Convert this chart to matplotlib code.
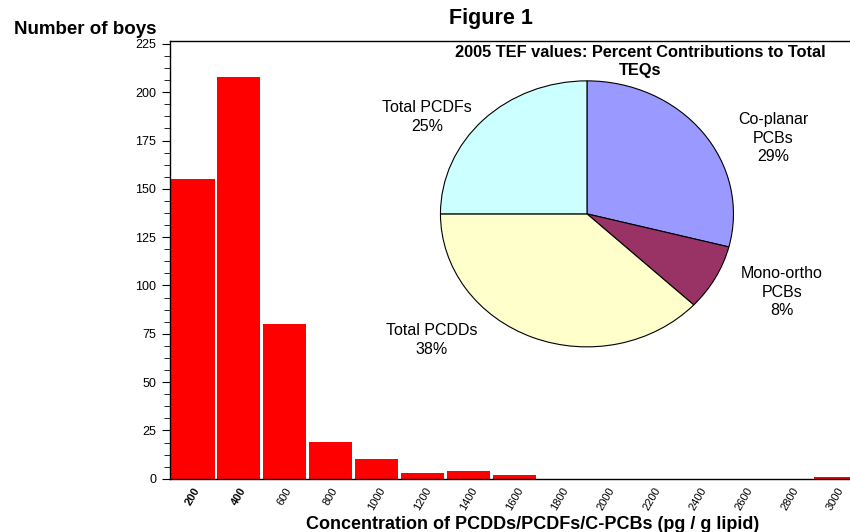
import numpy as np
import matplotlib
matplotlib.use('Agg')
import matplotlib.pyplot as plt
from matplotlib.ticker import MultipleLocator

plt.rcParams['font.family'] = ['Liberation Sans', 'DejaVu Sans']

# histogram data
bins = ['200', '400', '600', '800', '1000', '1200', '1400', '1600',
        '1800', '2000', '2200', '2400', '2600', '2800', '3000']
boys = [155, 208, 80, 19, 10, 3, 4, 2, 0, 0, 0, 0, 0, 0, 1]

# pie data
pie_labels = ['Co-planar\nPCBs', 'Mono-ortho\nPCBs', 'Total PCDDs', 'Total PCDFs']
pie_pcts = [29, 8, 38, 25]
pie_colors = ['#9999FF', '#993366', '#FFFFCC', '#CCFFFF']

fig = plt.figure(figsize=(8.5, 5.32), dpi=100)

ax = fig.add_axes([0.2, 0.1, 0.81, 0.823])
x = np.arange(len(bins))
ax.bar(x, boys, width=0.94, color='#FF0000', edgecolor='none')
ax.set_xlim(-0.5, len(bins) - 0.5)
ax.set_ylim(0, 226.5)
ax.yaxis.set_major_locator(MultipleLocator(25))
ax.yaxis.set_minor_locator(MultipleLocator(6.25))
ax.tick_params(axis='y', which='major', direction='out', length=6, labelsize=9, pad=4)
ax.tick_params(axis='y', which='minor', direction='out', length=4)
ax.set_xticks(x)
ax.set_xticklabels(bins, rotation=60, fontsize=8, ha='center', va='top')
for i, lab in enumerate(ax.get_xticklabels()):
    if i < 2:
        lab.set_fontweight('bold')
ax.tick_params(axis='x', length=0, pad=5)
ax.spines['right'].set_visible(False)
for s in ['left', 'top', 'bottom']:
    ax.spines[s].set_linewidth(1.0)

fig.text(0.577, 0.965, 'Figure 1', fontsize=15.5, fontweight='bold', ha='center', va='center')
fig.text(0.1, 0.944, 'Number of boys', fontsize=13.5, fontweight='bold', ha='center', va='center')
fig.text(0.627, 0.014, 'Concentration of PCDDs/PCDFs/C-PCBs (pg / g lipid)',
         fontsize=13, fontweight='bold', ha='center', va='center')

# pie inset
pax = fig.add_axes([0.5182, 0.348, 0.3447, 0.5])
pax.pie(pie_pcts, colors=pie_colors, startangle=90, counterclock=False,
        wedgeprops=dict(edgecolor='black', linewidth=0.8))
pax.set_aspect('auto')
pax.set_xlim(-1.0, 1.0)
pax.set_ylim(-1.0, 1.0)
label_pos = [(1.27, 0.57), (1.33, -0.59), (-1.06, -0.95), (-1.09, 0.73)]
for (lx, ly), name, p in zip(label_pos, pie_labels, pie_pcts):
    pax.text(lx, ly, f'{name}\n{p}%', ha='center', va='center', fontsize=11.5,
             linespacing=1.3, clip_on=False)

fig.text(0.753, 0.884, '2005 TEF values: Percent Contributions to Total\nTEQs',
         fontsize=11.8, fontweight='bold', ha='center', va='center', linespacing=1.25)

fig.savefig('out.png', dpi=100)
